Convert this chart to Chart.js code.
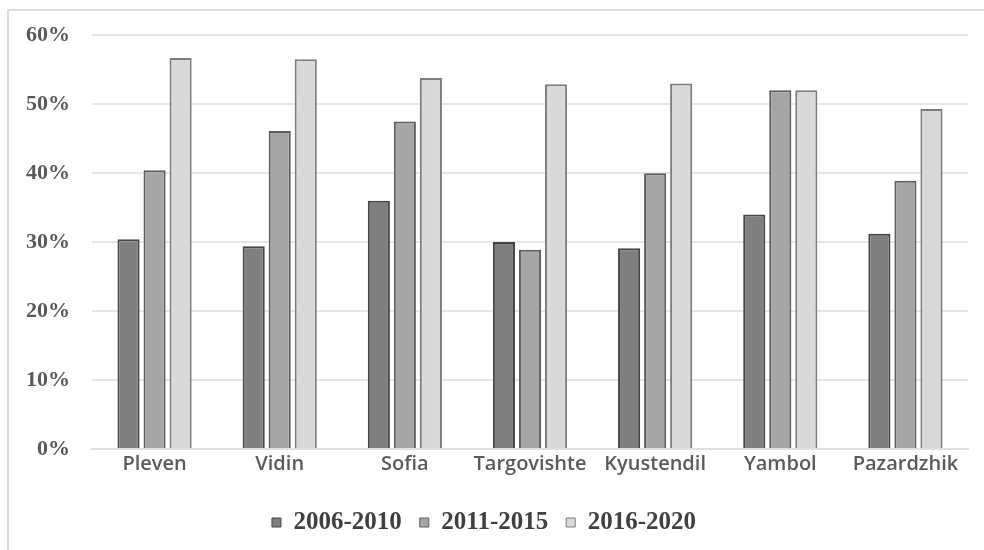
<!DOCTYPE html>
<html>
<head>
<meta charset="utf-8">
<script src="https://cdn.jsdelivr.net/npm/chart.js@4/dist/chart.umd.min.js"></script>
<style>
  html, body { margin: 0; padding: 0; background: #ffffff; }
  #wrap { position: relative; width: 984px; height: 550px; overflow: hidden; }
  #frame { position: absolute; left: 7px; top: 9px; width: 1000px; height: 600px;
           border-left: 2px solid #dcdcdc; border-top: 2px solid #dcdcdc; box-sizing: border-box; }
  canvas { position: absolute; left: 0; top: 0; }
</style>
</head>
<body>
<div id="wrap">
  <div id="frame"></div>
  <canvas id="chart" width="984" height="550"></canvas>
</div>
<script>
// Districts and shares (%) per period
const categories = ['Pleven', 'Vidin', 'Sofia', 'Targovishte', 'Kyustendil', 'Yambol', 'Pazardzhik'];
const periods = ['2006-2010', '2011-2015', '2016-2020'];
const share2006_2010 = [30.4, 29.4, 36.0, 30.0, 29.1, 34.0, 31.2];
const share2011_2015 = [40.4, 46.1, 47.5, 28.9, 40.0, 52.0, 38.9];
const share2016_2020 = [56.7, 56.5, 53.8, 52.9, 53.0, 52.0, 49.3];
const yTicks = [0, 10, 20, 30, 40, 50, 60];

const fills = ['#7f7f7f', '#a6a6a6', '#d9d9d9'];
const edges = ['#454545', '#5e5e5e', '#7d7d7d'];
const series = [share2006_2010, share2011_2015, share2016_2020];

const datasets = series.map((vals, i) => ({
  label: periods[i],
  data: vals,
  backgroundColor: fills[i],
  borderColor: edges[i],
  borderWidth: 2,
  categoryPercentage: 0.624,
  barPercentage: 0.85
}));

new Chart(document.getElementById('chart'), {
  type: 'bar',
  data: { labels: categories, datasets },
  options: {
    responsive: false,
    animation: false,
    layout: { padding: { top: 34, right: 16, left: 0, bottom: 5 } },
    plugins: {
      tooltip: { enabled: false },
      legend: {
        position: 'bottom',
        labels: {
          font: { family: 'Liberation Serif', size: 25, weight: 'bold' },
          color: '#404040',
          boxWidth: 9,
          boxHeight: 9,
          padding: 18,
          generateLabels(chart) {
            return chart.data.datasets.map((d, i) => ({
              text: d.label,
              fillStyle: d.backgroundColor,
              strokeStyle: d.borderColor,
              lineWidth: 1,
              fontColor: '#404040',
              datasetIndex: i
            }));
          }
        }
      }
    },
    scales: {
      x: {
        grid: { display: false, drawTicks: false },
        border: { color: '#e0e0e0', width: 2 },
        ticks: {
          font: { family: 'Open Sans', size: 20, weight: '600' },
          color: '#5a5a5a',
          padding: 3,
          maxRotation: 0,
          autoSkip: false
        },
        afterFit(scale) { scale.height = 43; }
      },
      y: {
        min: 0,
        max: 60,
        afterBuildTicks(scale) { scale.ticks = yTicks.map(v => ({ value: v })); },
        grid: { color: '#e6e6e6', lineWidth: 2, drawTicks: false },
        border: { display: false },
        ticks: {
          font: { family: 'Liberation Serif', size: 22, weight: 'bold' },
          color: '#595959',
          padding: 22,
          callback: v => v + '%'
        },
        afterFit(scale) { scale.width = 92; }
      }
    }
  }
});
</script>
</body>
</html>
